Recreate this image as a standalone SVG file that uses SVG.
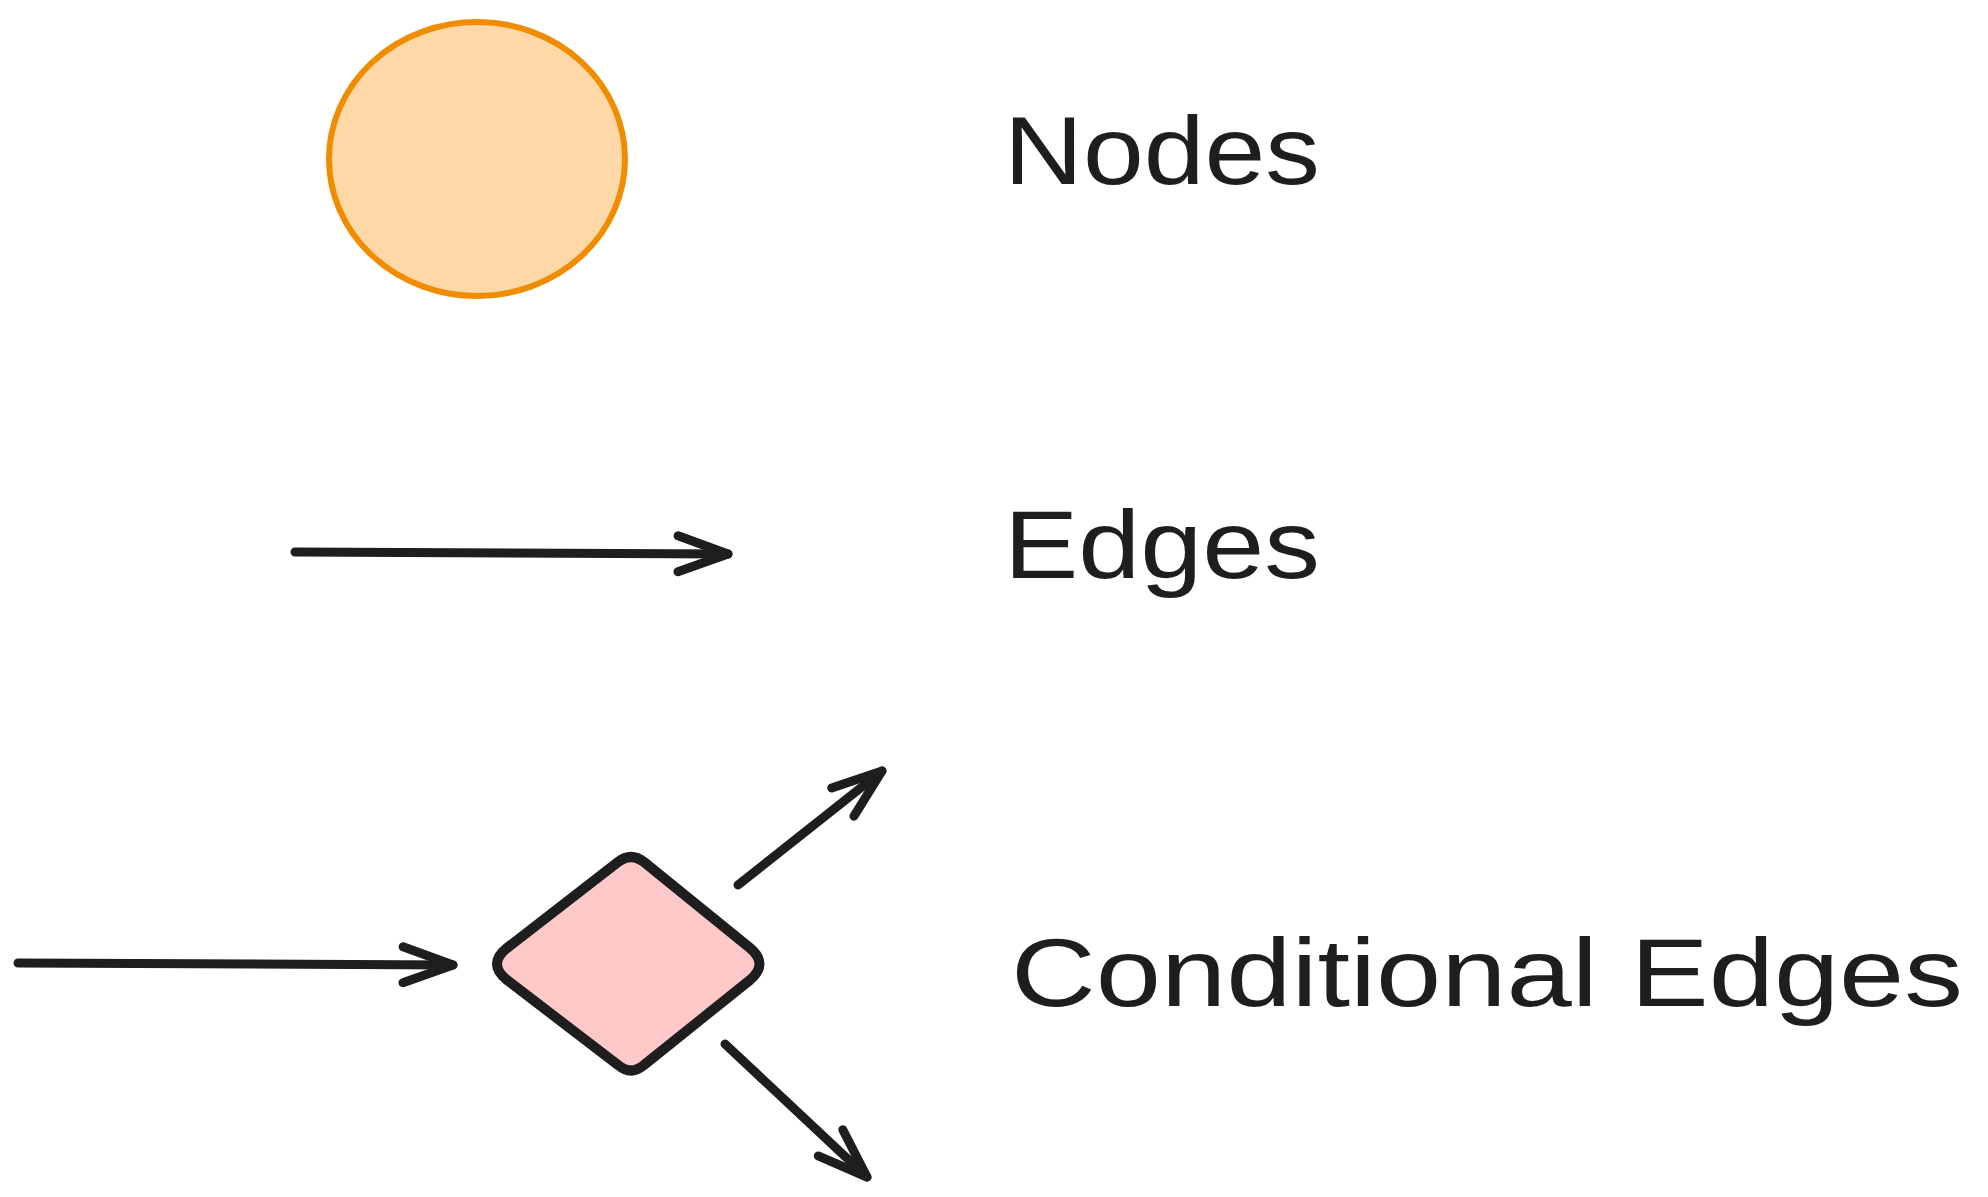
<svg xmlns="http://www.w3.org/2000/svg" width="1988" height="1197" viewBox="0 0 1988 1197">
  <style>
    .label { font-family: "Liberation Sans", "DejaVu Sans", sans-serif; font-size: 96px; fill: #1e1e1e; }
    .edge { fill: none; stroke: #1e1e1e; stroke-width: 9; stroke-linecap: round; stroke-linejoin: round; }
  </style>
  <defs>
    <marker id="arrow" markerUnits="userSpaceOnUse" markerWidth="120" markerHeight="120" viewBox="-60 -60 120 120" refX="0" refY="0" orient="auto" overflow="visible">
      <path d="M -50,-18 L 0,0 L -50,18" fill="none" stroke="#1e1e1e" stroke-width="9" stroke-linecap="round" stroke-linejoin="round"/>
    </marker>
  </defs>
  <rect width="1988" height="1197" fill="#ffffff"/>

  <g id="node-circle">
    <ellipse cx="477" cy="159" rx="148" ry="137" fill="#ffd8a8" stroke="#f08c00" stroke-width="6"/>
  </g>

  <g id="node-diamond">
    <path d="M 618,862 Q 631,852 644,862 L 750,948 Q 769,964 750,980 L 644,1065 Q 631,1076 618,1065 L 507,980 Q 487,964 507,948 Z" fill="#ffc9c9" stroke="#1e1e1e" stroke-width="10" stroke-linejoin="round"/>
  </g>

  <g id="connectors">
    <path class="edge" d="M 295,552 L 728,554" marker-end="url(#arrow)"/>
    <path class="edge" d="M 18,963 L 453,965" marker-end="url(#arrow)"/>
    <path class="edge" d="M 738,885 L 882,771" marker-end="url(#arrow)"/>
    <path class="edge" d="M 725,1044 L 867,1177" marker-end="url(#arrow)"/>
  </g>

  <g id="label-nodes">
    <text class="label" x="1004" y="184" textLength="316" lengthAdjust="spacingAndGlyphs">Nodes</text>
  </g>
  <g id="label-edges">
    <text class="label" x="1004" y="578" textLength="316" lengthAdjust="spacingAndGlyphs">Edges</text>
  </g>
  <g id="label-conditional">
    <text class="label" x="1011" y="1006" textLength="952" lengthAdjust="spacingAndGlyphs">Conditional Edges</text>
  </g>
</svg>
